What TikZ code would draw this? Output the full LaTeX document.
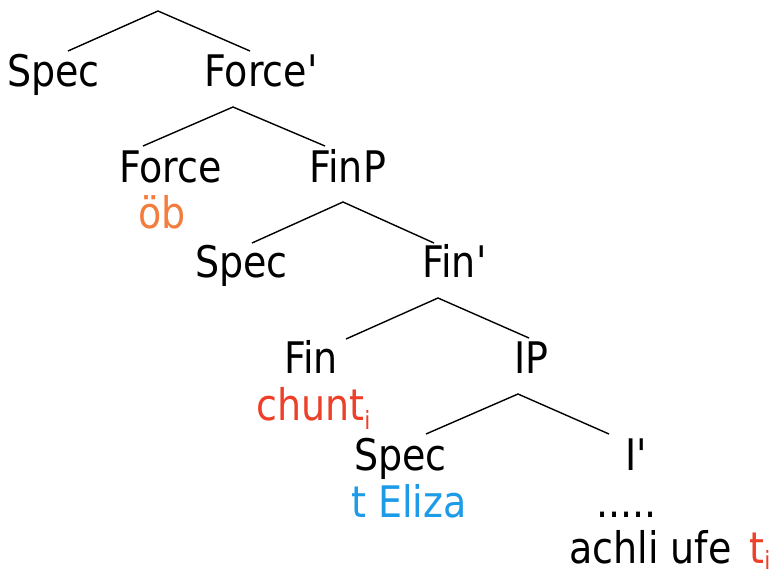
\documentclass[tikz,border=0pt]{standalone}
\usepackage{fontspec}
\setmainfont{DejaVu Sans}[FakeStretch=0.874]
\definecolor{obor}{RGB}{242,125,62}
\definecolor{chred}{RGB}{236,64,42}
\definecolor{elblue}{RGB}{30,155,230}
\newcommand{\subi}[1][-9pt]{{\fontsize{25}{25}\selectfont\raisebox{#1}{i}}}
\begin{document}
\begin{tikzpicture}[x=1pt,y=-1pt,
  lbl/.style={anchor=base west,inner sep=0pt,font=\fontsize{43.5}{45}\selectfont},
  branch/.style={draw=black,line width=1.4pt}]
\useasboundingbox (0,0) rectangle (779,574);
% level 1
\node[lbl] (spec1) at (7,86) {Spec};
\node[lbl] (forcebar) at (204,86) {Force\textquotesingle};
\coordinate (a1) at (158,11);
\coordinate (l1) at (68,51);
\coordinate (r1) at (250,51);
\draw[branch] (l1) -- (a1) -- (r1);
% level 2
\node[lbl] (force) at (119,182) {Force};
\node[lbl] (finp) at (309,182) {FinP};
\node[lbl,text=obor] (ob) at (138,228) {öb};
\coordinate (a2) at (233,107);
\coordinate (l2) at (143,146);
\coordinate (r2) at (325,146);
\draw[branch] (l2) -- (a2) -- (r2);
% level 3
\node[lbl] (spec2) at (195,277) {Spec};
\node[lbl] (finbar) at (422,277) {Fin\textquotesingle};
\coordinate (a3) at (343,202);
\coordinate (l3) at (252,243);
\coordinate (r3) at (434,243);
\draw[branch] (l3) -- (a3) -- (r3);
% level 4
\node[lbl] (fin) at (284,373) {Fin};
\node[lbl] (ip) at (514,373) {IP};
\node[lbl,text=chred] (chunt) at (256,420) {chunt\subi};
\coordinate (a4) at (438,298);
\coordinate (l4) at (346,339);
\coordinate (r4) at (529,338);
\draw[branch] (l4) -- (a4) -- (r4);
% level 5
\node[lbl] (spec3) at (354,470) {Spec};
\node[lbl] (ibar) at (625,470) {I\textquotesingle};
\node[lbl,text=elblue] (eliza) at (351,517) {t Eliza};
\node[lbl] (dots) at (596,517) {.....};
\node[lbl] (achli) at (569,563) {achli ufe\hspace{18pt}{\color{chred}t\subi[-6pt]}};
\coordinate (a5) at (518,394);
\coordinate (l5) at (426,434);
\coordinate (r5) at (609,434);
\draw[branch] (l5) -- (a5) -- (r5);
\end{tikzpicture}
\end{document}
